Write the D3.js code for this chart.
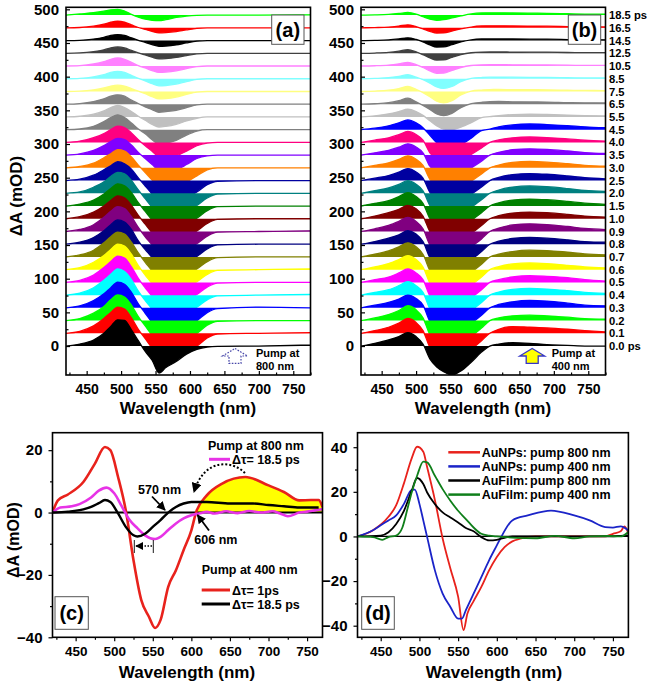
<!DOCTYPE html>
<html><head><meta charset="utf-8">
<script src="https://cdn.jsdelivr.net/npm/d3@7"></script>
<style>
body{margin:0;background:#fff}
svg{display:block}
text{font-family:"Liberation Sans",Arial,Helvetica,sans-serif;font-weight:bold;fill:#000}
</style>
</head><body>
<svg id="chart" width="660" height="683"></svg>
<script>
// ---------------- DATA ----------------
const delayLabels = ["0.0 ps","0.1","0.2","0.3","0.4","0.5","0.6","0.7","0.8","0.9","1.0","1.5","2.0","2.5","3.0","3.5","4.0","4.5","5.5","6.5","7.5","8.5","10.5","12.5","14.5","16.5","18.5 ps"];
const stackOffset = 18.9; // mOD between successive traces
const colorsA = ["#000000","#ff0000","#00ff00","#0000ff","#00ffff","#ff00ff","#ffff00","#808000","#000080","#800080","#800000","#008000","#008080","#0000a0","#ff8000","#8000ff","#ff0080","#808080","#c0c0c0","#808080","#ffff80","#80ffff","#ff80ff","#404040","#000000","#ff0000","#00ff00"];
const colorsB = ["#000000","#ff0000","#00ff00","#0000ff","#00ffff","#ff00ff","#ffff00","#808000","#000080","#800080","#800000","#008000","#008080","#0000a0","#ff8000","#8000ff","#ff0080","#0000ff","#c0c0c0","#808080","#ffff80","#80ffff","#ff80ff","#404040","#000000","#ff0000","#00ff00"];

// panel (a): pump 800 nm, values in mOD at wlA
const wlA = [420,440,460,475,485,495,505,515,525,535,545,555,565,580,595,610,625,640,700,775];
const specA = [
 [0,3,9,19,29,39,38,24,8,-8,-21,-40,-32,-23,-12,-5,-1.5,-0.5,0,1.5],
 [0,3,11,22,31,39,36,23,6,-8,-22,-38,-42,-36,-28,-19,-7,-1,0,1],
 [0,3,11,21,31,38,35,23,6,-8,-22,-38,-42,-36,-28,-19,-7,-1,0,0],
 [0,3,11,21,30,38,35,23,6,-8,-22,-38,-42,-36,-28,-19,-7,-1,1,0],
 [0,3,11,22,31,39,35,23,6,-8,-21,-37,-41,-35,-27,-18,-7,-1,0,1],
 [0,3,11,22,31,39,36,23,6,-8,-21,-37,-41,-35,-27,-18,-7,-1,0,0],
 [0,3,11,21,30,38,35,23,6,-8,-21,-36,-40,-34,-27,-18,-7,-1,0,1],
 [0,3,10,21,30,37,34,22,6,-8,-21,-36,-40,-34,-27,-18,-7,-1,0,0],
 [0,3,10,20,29,36,33,22,5,-8,-20,-35,-39,-34,-26,-18,-7,-1,0,0],
 [0,3,10,21,30,37,34,22,6,-8,-20,-35,-39,-34,-26,-18,-7,-1,0,1],
 [0,3,10,19,27,34,31,20,5,-8,-21,-36,-40,-34,-27,-18,-7,-1,0,0],
 [0,3,9,18,26,33,30,20,5,-8,-21,-36,-40,-34,-27,-18,-7,-1,0,0],
 [0,2,9,17,25,31,29,19,5,-8,-21,-36,-40,-34,-27,-18,-7,-1,0,0],
 [0,2,8,16,22,28,25,17,4,-8,-20,-34,-38,-33,-25,-17,-6,-1,0,0],
 [0,2,7,15,21,27,25,16,4,-7,-18,-29,-32,-28,-21,-12,-3,0,0,0],
 [0,2,7,14,20,25,23,15,4,-5,-14,-23,-26,-22,-14,-5,-1,0,0,0],
 [0,2,7,13,19,24,22,14,4,-5,-13,-22,-24,-20,-13,-5,-1,0,0,0],
 [0,1,5,12,18,22,18,10,1,-6,-15,-21,-20,-16,-8,-2,0,0,0,0],
 [0,1,4,9,14,17,14,8,1,-5,-11,-15,-14,-11,-6,-2,0,0,0,0],
 [0,1,4,8,12,14,12,6,1,-4,-8,-12,-11,-9,-5,-1,0,0,0,0],
 [0,0.5,2.4,5.2,8,9.4,8,4.2,0.5,-3.3,-7.7,-11,-10.5,-8.3,-4.4,-1.1,0,0,0,0],
 [0,0.6,2.8,6,9.4,11,9.4,5,0.6,-3.2,-7.4,-10.5,-10,-7.9,-4.2,-1,0,0,0,0],
 [0,0.6,3,6.5,10,11.9,10,5.4,0.6,-2.9,-6.7,-9.5,-9,-7.1,-3.8,-1,0,0,0,0],
 [0,0.5,2.4,5.2,8,9.4,8,4.2,0.5,-2.5,-5.8,-8.3,-7.9,-6.2,-3.3,-0.8,0,0,0,0],
 [0,0.4,2.2,4.9,7.6,8.9,7.6,4,0.4,-2.6,-6,-8.5,-8.1,-6.4,-3.4,-0.9,0,0,0,0],
 [0,0.5,2.5,5.4,8.3,9.8,8.3,4.4,0.5,-2.3,-5.3,-7.5,-7.1,-5.6,-3,-0.8,0,0,0,0],
 [0,1.8,3.5,5.8,7.8,8.6,6,1,-3,-6,-7.6,-8.3,-6.7,-3.5,-1.4,-0.3,0,0,0,0.5]
];

// panel (b): pump 400 nm, values in mOD at wlB
const wlB = [420,440,460,475,488,500,510,520,530,540,552,565,580,595,607,620,640,665,690,720,745,775];
const specB = [
 [0,4,9,14,20,14,3,-19,-31,-38,-43,-37,-24,-9,0,3,5,4,2,1,0,0],
 [0,4,9,15,22,16,4,-21,-34,-40,-42,-37,-24,-11,0,6,10,9,8,6,4,2],
 [0,4,9,15,22,16,4,-21,-34,-40,-42,-37,-24,-11,0,4,7,8,7,5,3,2],
 [0,4,8,13,19,14,4,-20,-32,-38,-40,-35,-23,-11,0,5,9,11,10,7,4,3],
 [0,4,8,14,20,14,4,-20,-32,-38,-40,-35,-23,-11,0,4.5,8.5,10,9,6.5,4,2.5],
 [0,4,8,14,20,14,4,-20,-32,-38,-40,-35,-23,-11,0,4,8,10,9,7,4,2],
 [0,4,9,15,21,15,4,-20,-32,-38,-40,-35,-23,-11,0,4.5,8.5,10,9,6.5,4,2.5],
 [0,4,9,15,21,15,4,-20,-32,-38,-40,-35,-23,-11,0,4,8,10,9.5,7,4.5,3],
 [0,4,9,14,20,15,4,-20,-32,-38,-40,-35,-23,-11,0,4.5,8.5,10,9,6.5,4,3],
 [0,4,9,15,21,15,4,-20,-32,-38,-40,-35,-23,-11,0,5,9.7,11.4,10.3,7.4,4.6,2.9],
 [0,4,9,14,20,15,4,-19,-30,-36,-38,-33,-22,-10,0,4.5,8.5,10,9,6.5,4,2.5],
 [0,4,8,14,20,14,4,-18.5,-29.6,-35.2,-37,-32.6,-21.5,-10,0,4.7,8.8,10.4,9.4,6.8,4.2,2.6],
 [0,3.8,7.9,13.2,18.8,13.5,3.8,-18,-28.8,-34.2,-36,-31.7,-20.9,-9.7,0,4.9,9.3,10.9,9.8,7.1,4.4,2.7],
 [0,3.6,7.5,12.5,17.8,12.8,3.6,-17.5,-28,-33.3,-35,-30.8,-20.3,-9.5,0,4.7,8.8,10.4,9.4,6.8,4.2,2.6],
 [0,3.6,7.5,12.5,17.8,12.8,3.6,-17,-27.2,-32.3,-34,-29.9,-19.7,-9.2,0,4.2,8,9.4,8.5,6.1,3.8,2.4],
 [0,3.4,7.1,11.8,16.8,12.1,3.4,-16.5,-26.4,-31.4,-33,-29,-19.1,-8.9,0,4.2,8,9.4,8.5,6.1,3.8,2.4],
 [0,3.3,6.8,11.4,16.3,11.7,3.3,-15.5,-24.8,-29.5,-31,-27.3,-18,-8.4,0,3.6,6.8,8,7.2,5.2,3.2,2],
 [0,2.2,5.8,10.1,14.4,10.1,2.9,-8.4,-19.6,-26.6,-28,-22.4,-12.6,-1.4,0.8,4.2,7.1,8.4,7.6,5.9,4.2,2.9],
 [0,1.7,4.6,8,11.4,8,2.3,-5.7,-13.3,-18,-19,-15.2,-8.6,-1,0.4,2,3.4,4,3.6,2.8,2,1.4],
 [0,0.7,2.2,5.3,8.9,3.6,-1.7,-7.7,-14.5,-17,-13.6,-5.1,0.8,2.8,3.8,4,3.6,3.4,3.2,2.4,2,1.8],
 [0,0.6,1.9,4.4,7.4,3,-1.7,-7.7,-14.5,-17,-13.6,-5.1,0.6,2.1,2.9,3,2.7,2.6,2.4,1.8,1.5,1.4],
 [0,0.5,1.5,3.6,6,2.4,-1.4,-6.5,-12.2,-14.4,-11.5,-4.3,0.5,1.8,2.4,2.5,2.3,2.1,2,1.5,1.3,1.1],
 [0,0.4,1.4,3.2,5.4,2.2,-2.2,-7.2,-10.7,-10.5,-6.6,-2.2,0.8,1.8,2,2,1.8,1.7,1.6,1.2,1,0.9],
 [0,0.4,1.4,3.2,5.4,2.2,-2.1,-6.8,-10.1,-9.9,-6.2,-2.1,0.8,1.8,2,2,1.8,1.7,1.6,1.2,1,0.9],
 [0,0.3,1,2.4,4,1.6,-2,-6.5,-9.7,-9.5,-6,-2,1,2.3,2.5,2.5,2.3,2.1,2,1.5,1.3,1.1],
 [0,0.4,1.1,2.7,4.5,1.8,-1.6,-5.2,-7.8,-7.6,-4.8,-1.6,1.2,2.7,3,3,2.7,2.6,2.4,1.8,1.5,1.4],
 [0,0.3,1,2.4,4,1.6,-2.4,-6,-7.7,-6.8,-4.2,-1.2,1.8,3.2,3.4,3.4,3.1,2.9,2.7,2,1.6,1.5]
];

// panel (c)
const cRedWl = [420,427,440,460,475,488,495,505,515,525,535,545,553,560,570,580,590,600,606,620,640,670,700,720,740,755,765,770];
const cRedVal = [0,3.9,5.8,9.8,15.7,21,20,11.4,0.7,-15.3,-28,-33.4,-37,-34.5,-23.8,-18.5,-12,-5.7,0,5.5,9.3,11.4,8.7,6.6,3.9,4,4,1.8];
const cMagWl = [420,430,445,455,470,480,490,500,510,520,530,540,553,560,570,580,590,600,610,620,630,645,660,675,690,705,715,725,740,750,760,770];
const cMagVal = [0,1.6,2,2.7,4.8,7,8,6.2,1.9,-2.4,-5,-7.3,-8.5,-7.8,-5.6,-3.5,-1.9,-0.9,-0.3,0.2,-0.3,0.4,-0.2,0.5,0,0.4,-0.3,-1.2,0,0.3,0.7,1.1];
const cBlkWl = [420,440,460,470,480,488,495,505,515,525,530,540,550,560,570,580,590,600,620,650,680,700,720,740,765];
const cBlkVal = [0,0.3,1,1.8,3,4,3.4,-0.3,-4.6,-7.3,-7.7,-6.8,-4.6,-2.4,0,1.8,2.9,3.4,3.4,2.9,2.9,2.4,2,1.6,1.6];

// panel (d)
const dRedWl = [420,440,460,470,480,490,497,505,510,520,530,540,550,557,562,570,580,590,600,610,620,630,650,700,740,750,760,765,770];
const dRedVal = [0,2.8,8.8,14,23.8,35,40.2,38,31,16.3,-0.9,-14.4,-27,-42,-34.5,-29,-22.6,-15.2,-9.2,-4.8,-2.2,-1,0,0,0,1.2,2.3,4.5,1.2];
const dBlueWl = [420,440,450,460,470,480,490,494,500,505,510,520,530,540,550,555,560,570,580,590,600,606,620,640,670,700,720,740,750,760,770];
const dBlueVal = [0,2.8,5,7.2,9.4,14.6,20.9,21,14.6,7.2,-0.3,-15.2,-25.6,-31.6,-36.8,-36.8,-33,-25.6,-18.2,-10.7,-4,0,7.2,9.4,11.6,9.4,7.2,4.2,4,4.5,2.7];
const dBlkWl = [420,450,460,470,480,490,497,505,510,520,530,540,550,560,570,580,590,600,610,620,700,740,760,770];
const dBlkVal = [0,0.4,1.9,5.6,11.5,20.5,26.2,23.5,19.7,14.5,10.8,8.5,6.3,3.8,2.3,-0.3,-1.8,-1.5,-0.6,0,0,0,0.3,0.5];
const dGrnWl = [420,440,452,460,470,478,485,490,497,505,510,520,530,540,550,560,570,580,590,600,625,650,675,700,720,745,760,770];
const dGrnVal = [0,-0.3,-1.5,-0.3,0.4,4,13,19.7,27.2,33.5,33.2,27.2,21.2,16,11.5,7.8,4,1.2,0.4,0,-0.6,-0.8,0.3,-0.8,0,0.2,0,2];
const dLegend = [["AuNPs:","pump 800 nm","#e8221c"],["AuNPs:","pump 400 nm","#1b24c8"],["AuFilm:","pump 800 nm","#000000"],["AuFilm:","pump 400 nm","#0f7f1a"]];

const xTicks = [450,500,550,600,650,700,750];
const xMinor = [425,475,525,575,625,675,725,775];
const yTicksAB = [0,50,100,150,200,250,300,350,400,450,500];

// ---------------- DRAW ----------------
const svg = d3.select("#chart");
const FONT = '"Liberation Sans",Arial,sans-serif';

function frame(x0,y0,x1,y1){
  svg.append("rect").attr("x",x0).attr("y",y0).attr("width",x1-x0).attr("height",y1-y0)
    .attr("fill","none").attr("stroke","#000").attr("stroke-width",1.6);
}
function clip(id,x0,y0,x1,y1){
  svg.append("clipPath").attr("id",id).append("rect").attr("x",x0).attr("y",y0).attr("width",x1-x0).attr("height",y1-y0);
  return svg.append("g").attr("clip-path",`url(#${id})`);
}
function xAxis(scale, yPos, inward, fs, pad){
  const g = svg.append("g").attr("transform",`translate(0,${yPos})`);
  g.call(d3.axisBottom(scale).tickValues(xTicks).tickSize(inward?-4:4).tickPadding(pad).tickFormat(d3.format("d")));
  const gm = svg.append("g").attr("transform",`translate(0,${yPos})`);
  gm.call(d3.axisBottom(scale).tickValues(xMinor.filter(v=>v>=scale.domain()[0]&&v<=scale.domain()[1])).tickSize(inward?-2.5:2.5).tickFormat(""));
  [g,gm].forEach(a=>{a.select(".domain").remove();a.selectAll("line").attr("stroke","#000").attr("stroke-width",1.2);});
  g.selectAll("text").attr("font-size",fs).attr("font-family",FONT).attr("font-weight","bold").attr("fill","#000");
}
function yAxis(scale, xPos, ticks, minor, inward, fs, pad, fmt){
  const g = svg.append("g").attr("transform",`translate(${xPos},0)`);
  g.call(d3.axisLeft(scale).tickValues(ticks).tickSize(inward?-4:4).tickPadding(pad).tickFormat(fmt||d3.format("d")));
  const gm = svg.append("g").attr("transform",`translate(${xPos},0)`);
  gm.call(d3.axisLeft(scale).tickValues(minor).tickSize(inward?-2.5:2.5).tickFormat(""));
  [g,gm].forEach(a=>{a.select(".domain").remove();a.selectAll("line").attr("stroke","#000").attr("stroke-width",1.2);});
  g.selectAll("text").attr("font-size",fs).attr("font-family",FONT).attr("font-weight","bold").attr("fill","#000");
}
function label(x,y,t,fs,anchor,rot){
  const e = svg.append("text").attr("x",x).attr("y",y).attr("font-size",fs).attr("text-anchor",anchor||"start").text(t);
  if(rot) e.attr("transform",`rotate(${rot},${x},${y})`);
  return e;
}
function boxLabel(x0,y0,x1,y1,t){
  svg.append("rect").attr("x",x0).attr("y",y0).attr("width",x1-x0).attr("height",y1-y0).attr("fill","#fff").attr("stroke","#555").attr("stroke-width",1);
  label((x0+x1)/2,(y0+y1)/2+7,t,20,"middle");
}
function drawStack(g,x,y,wl,spec,colors){
  for(let i=spec.length-1;i>=0;i--){
    const base = stackOffset*i;
    const pts = wl.map((w,k)=>[w,spec[i][k]]);
    const area = d3.area().x(d=>x(d[0])).y0(y(base)).y1(d=>y(base+d[1])).curve(d3.curveMonotoneX);
    const line = d3.line().x(d=>x(d[0])).y(d=>y(base+d[1])).curve(d3.curveMonotoneX);
    g.append("path").attr("d",area(pts)).attr("fill",colors[i]);
    g.append("path").attr("d",line(pts)).attr("fill","none").attr("stroke",colors[i]).attr("stroke-width",1.3);
  }
}

// ---- panel (a)
const xA = d3.scaleLinear([420,775],[66,310.5]);
const yAB = d3.scaleLinear([-43,503],[375,7.3]);
const gA = clip("clipA",66,7.3,310.5,375);
drawStack(gA,xA,yAB,wlA,specA,colorsA);
frame(66,7.3,310.5,375);
xAxis(xA,375,true,14,9);
yAxis(yAB,66,yTicksAB,d3.range(25,500,50),true,15,7);
boxLabel(271.7,15,304,44.3,"(a)");
// pump arrow (a)
const arrowPts = (cx)=>[[cx,348.5],[cx+12.5,356],[cx+6,356],[cx+6,363.3],[cx-6,363.3],[cx-6,356],[cx-12.5,356]];
svg.append("polygon").attr("points",arrowPts(235).map(p=>p.join(",")).join(" "))
  .attr("fill","#fff").attr("stroke","#4646a8").attr("stroke-width",1.2).attr("stroke-dasharray","1.6,1.4");
label(256,357,"Pump at",11);
label(256,369.5,"800 nm",11);
label(188,413.5,"Wavelength (nm)",17,"middle");
label(22,196,"ΔA (mOD)",17,"middle",-90);

// ---- panel (b)
const xB = d3.scaleLinear([420,775],[361,605.5]);
const gB = clip("clipB",361,7.3,605.5,375);
drawStack(gB,xB,yAB,wlB,specB,colorsB);
frame(361,7.3,605.5,375);
xAxis(xB,375,true,14,9);
yAxis(yAB,361,yTicksAB,d3.range(25,500,50),true,15,7);
boxLabel(568.3,15,600.7,44.3,"(b)");
svg.append("polygon").attr("points",arrowPts(532.2).map(p=>p.join(",")).join(" "))
  .attr("fill","#ffff00").attr("stroke","#3535c8").attr("stroke-width",1.3);
label(551.7,357,"Pump at",11);
label(551.7,369.5,"400 nm",11);
label(483,413.5,"Wavelength (nm)",17,"middle");
delayLabels.forEach((t,i)=>{
  svg.append("text").attr("x",609).attr("y",yAB(stackOffset*i)).attr("dy","0.36em").attr("font-size",11.2).text(t);
});

// ---- panel (c)
const xC = d3.scaleLinear([420,770],[52.5,322.5]);
const yC = d3.scaleLinear([-40,25.6],[637.3,432.7]);
const gC = clip("clipC",52.5,432.7,322.5,637.3);
const lineC = (wl,v)=>d3.line().x(d=>xC(d[0])).y(d=>yC(d[1])).curve(d3.curveMonotoneX)(wl.map((w,k)=>[w,v[k]]));
const yellowPts = cRedWl.map((w,k)=>[w,cRedVal[k]]).filter(d=>d[0]>=606);
gC.append("path").attr("d",d3.area().x(d=>xC(d[0])).y0(yC(0)).y1(d=>yC(d[1])).curve(d3.curveMonotoneX)(yellowPts)).attr("fill","#ffff00");
gC.append("line").attr("x1",52.5).attr("x2",322.5).attr("y1",yC(0)).attr("y2",yC(0)).attr("stroke","#000").attr("stroke-width",2);
gC.append("path").attr("d",lineC(cRedWl,cRedVal)).attr("fill","none").attr("stroke","#e8221c").attr("stroke-width",2.6);
gC.append("path").attr("d",lineC(cMagWl,cMagVal)).attr("fill","none").attr("stroke","#e733e6").attr("stroke-width",2.6);
gC.append("path").attr("d",lineC(cBlkWl,cBlkVal)).attr("fill","none").attr("stroke","#000").attr("stroke-width",2.4);
frame(52.5,432.7,322.5,637.3);
xAxis(xC,637.3,false,13.5,5);
yAxis(yC,52.5,[-40,-20,0,20],[-30,-10,10],false,15,6);
label(19,540,"ΔA (mOD)",16,"middle",-90);
label(187,678,"Wavelength (nm)",17,"middle");
boxLabel(55,596.7,88.3,629.3,"(c)");
// legends & annotations (c)
label(208,450,"Pump at 800 nm",12.5);
svg.append("line").attr("x1",209).attr("x2",230).attr("y1",459.3).attr("y2",459.3).attr("stroke","#e733e6").attr("stroke-width",3);
label(232,463.5,"Δτ= 18.5 ps",12.5);
label(201.7,574,"Pump at 400 nm",12.5);
svg.append("line").attr("x1",201.7).attr("x2",230).attr("y1",590).attr("y2",590).attr("stroke","#e8221c").attr("stroke-width",3);
label(232,594.5,"Δτ= 1ps",12.5);
svg.append("line").attr("x1",201.7).attr("x2",230).attr("y1",604).attr("y2",604).attr("stroke","#000").attr("stroke-width",3);
label(232,608.5,"Δτ= 18.5 ps",12.5);
label(138,493.5,"570 nm",12.5);
label(194.3,543.5,"606 nm",12.5);
const defs = svg.append("defs");
defs.append("marker").attr("id","ah").attr("viewBox","0 0 10 10").attr("refX",9).attr("refY",5)
  .attr("markerWidth",5).attr("markerHeight",5).attr("orient","auto")
  .append("path").attr("d","M0,0L10,5L0,10z").attr("fill","#000");
svg.append("line").attr("x1",152).attr("y1",496.5).attr("x2",165).attr("y2",510).attr("stroke","#000").attr("stroke-width",1.8).attr("marker-end","url(#ah)");
svg.append("line").attr("x1",209).attr("y1",530.5).attr("x2",197.5).attr("y2",515).attr("stroke","#000").attr("stroke-width",1.8).attr("marker-end","url(#ah)");
svg.append("path").attr("d","M245,473 C232,460 204,458 194,492").attr("fill","none").attr("stroke","#000").attr("stroke-width",2).attr("stroke-dasharray","2,2").attr("marker-end","url(#ah)");
svg.append("line").attr("x1",134.3).attr("x2",134.3).attr("y1",540).attr("y2",553).attr("stroke","#000").attr("stroke-width",0.9);
svg.append("line").attr("x1",153.3).attr("x2",153.3).attr("y1",540).attr("y2",553).attr("stroke","#000").attr("stroke-width",0.9);
svg.append("line").attr("x1",152).attr("x2",136).attr("y1",546).attr("y2",546).attr("stroke","#000").attr("stroke-width",1.6).attr("stroke-dasharray","1.5,1.5").attr("marker-end","url(#ah)");

// ---- panel (d)
const xD = d3.scaleLinear([420,770],[357.5,628.4]);
const yD = d3.scaleLinear([-45.2,46.5],[637.3,432.7]);
const gD = clip("clipD",357.5,432.7,628.4,637.3);
const lineD = (wl,v)=>d3.line().x(d=>xD(d[0])).y(d=>yD(d[1])).curve(d3.curveMonotoneX)(wl.map((w,k)=>[w,v[k]]));
gD.append("line").attr("x1",357.5).attr("x2",628.4).attr("y1",yD(0)).attr("y2",yD(0)).attr("stroke","#000").attr("stroke-width",1.2);
gD.append("path").attr("d",lineD(dRedWl,dRedVal)).attr("fill","none").attr("stroke","#e8221c").attr("stroke-width",1.8);
gD.append("path").attr("d",lineD(dBlueWl,dBlueVal)).attr("fill","none").attr("stroke","#1b24c8").attr("stroke-width",1.8);
gD.append("path").attr("d",lineD(dBlkWl,dBlkVal)).attr("fill","none").attr("stroke","#000").attr("stroke-width",1.8);
gD.append("path").attr("d",lineD(dGrnWl,dGrnVal)).attr("fill","none").attr("stroke","#0f7f1a").attr("stroke-width",1.8);
frame(357.5,432.7,628.4,637.3);
xAxis(xD,637.3,false,13.5,5);
yAxis(yD,357.5,[-40,-20,0,20,40],[-30,-10,10,30],false,15,6);
label(494,678,"Wavelength (nm)",17,"middle");
boxLabel(361.7,596.7,394.3,629.3,"(d)");
dLegend.forEach((r,i)=>{
  const yy = 452.3 + i*14.1;
  svg.append("line").attr("x1",448.3).attr("x2",480).attr("y1",yy).attr("y2",yy).attr("stroke",r[2]).attr("stroke-width",2.5);
  label(481.7,yy+4.3,r[0],12.5);
  label(530,yy+4.3,r[1],12.5);
});
</script>
</body></html>
